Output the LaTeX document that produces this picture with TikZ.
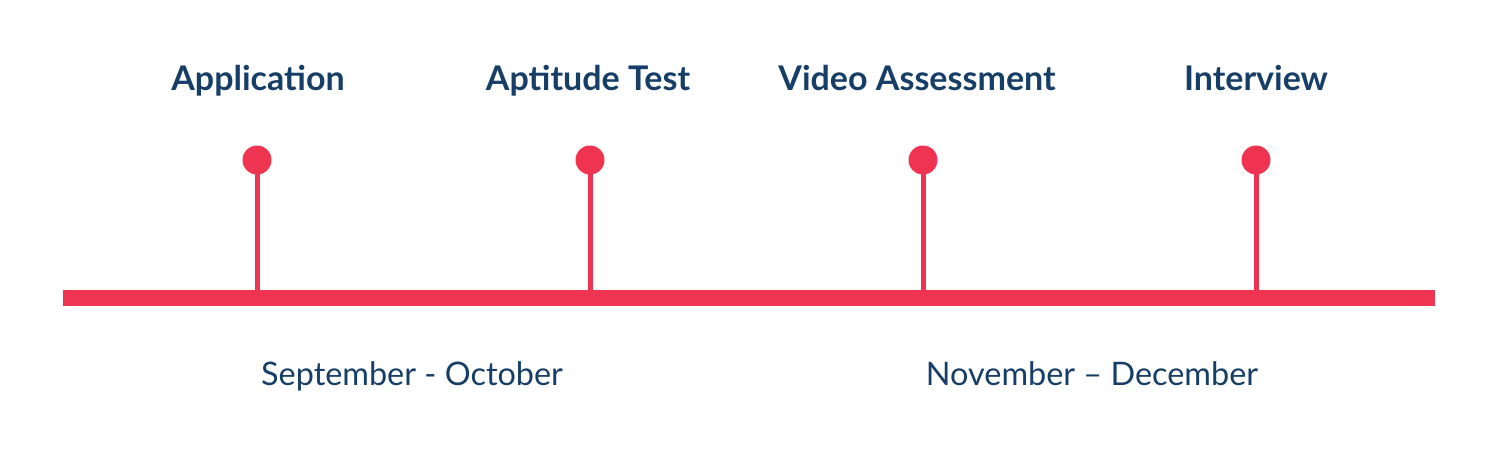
\documentclass[tikz,border=0pt]{standalone}
\usepackage{fontspec}
\setmainfont{Lato}
\definecolor{pinred}{RGB}{238,52,80}
\definecolor{navy}{RGB}{22,62,102}
\begin{document}
\begin{tikzpicture}[x=0.5pt,y=-0.5pt]
		\tikzstyle{pin}=[circle,fill=pinred,inner sep=0pt,minimum size=14.5pt]
		\tikzstyle{stem}=[draw=pinred,line width=2.5pt]
		\tikzstyle{stage}=[anchor=base,text=navy,font=\fontsize{17}{20}\selectfont\bfseries]
		\tikzstyle{period}=[anchor=base,text=navy,font=\fontsize{16.2}{19}\selectfont]
		\useasboundingbox (0,0) rectangle (1500,457);
		\begin{scope}
			% axis
			\coordinate (left) at (63,298);
			\coordinate (right) at (1435,298);
			\draw[pinred,line width=8pt] (left) -- (right);
			% pins
			\node [pin] (p1) at (257,160) {};
			\node [pin] (p2) at (590,160) {};
			\node [pin] (p3) at (923,160) {};
			\node [pin] (p4) at (1256,160) {};
			\coordinate (b1) at (257,298);
			\coordinate (b2) at (590,298);
			\coordinate (b3) at (923,298);
			\coordinate (b4) at (1256,298);
			\path[stem] (p1.center) -- (b1);
			\path[stem] (p2.center) -- (b2);
			\path[stem] (p3.center) -- (b3);
			\path[stem] (p4.center) -- (b4);
			% labels
			\node [stage] (application) at (258,90) {Application};
			\node [stage] (aptitude) at (588,90) {Aptitude Test};
			\node [stage] (video) at (917,90) {Video Assessment};
			\node [stage] (interview) at (1256,90) {Interview};
			\node [period] (autumn) at (412,385) {September - October};
			\node [period] (winter) at (1092,385) {November – December};
		\end{scope}
\end{tikzpicture}
\end{document}
